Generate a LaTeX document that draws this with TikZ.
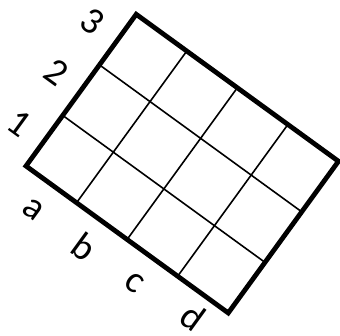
\documentclass[tikz,border=0pt]{standalone}
\usepackage{fontspec}
\setmainfont{Carlito}
\begin{document}
\begin{tikzpicture}[x=1pt,y=1pt,
  outer/.style={line width=4.8pt,line join=miter},
  inner/.style={line width=1.6pt},
  lbl/.style={font=\fontsize{38}{38}\selectfont,inner sep=0pt,transform shape}]
\useasboundingbox (0,0) rectangle (340,335);
\begin{scope}[shift={(26,169)},rotate=-36]
  \def\s{62.5}
  \coordinate (BL) at (0,0);
  \coordinate (TR) at (4*\s,3*\s);
  \foreach \i in {1,2,3}
    \draw[inner] (\i*\s,0) -- (\i*\s,3*\s);
  \foreach \j in {1,2}
    \draw[inner] (0,\j*\s) -- (4*\s,\j*\s);
  \draw[outer] (BL) rectangle (TR);
  \node[lbl] (n1) at (-30,31) {1};
  \node[lbl] (n2) at (-31,94) {2};
  \node[lbl] (n3) at (-31,156) {3};
  \node[lbl] (la) at (31,-31) {a};
  \node[lbl] (lb) at (94,-31) {b};
  \node[lbl] (lc) at (156,-31) {c};
  \node[lbl] (ld) at (224,-24) {d};
\end{scope}
\end{tikzpicture}
\end{document}
